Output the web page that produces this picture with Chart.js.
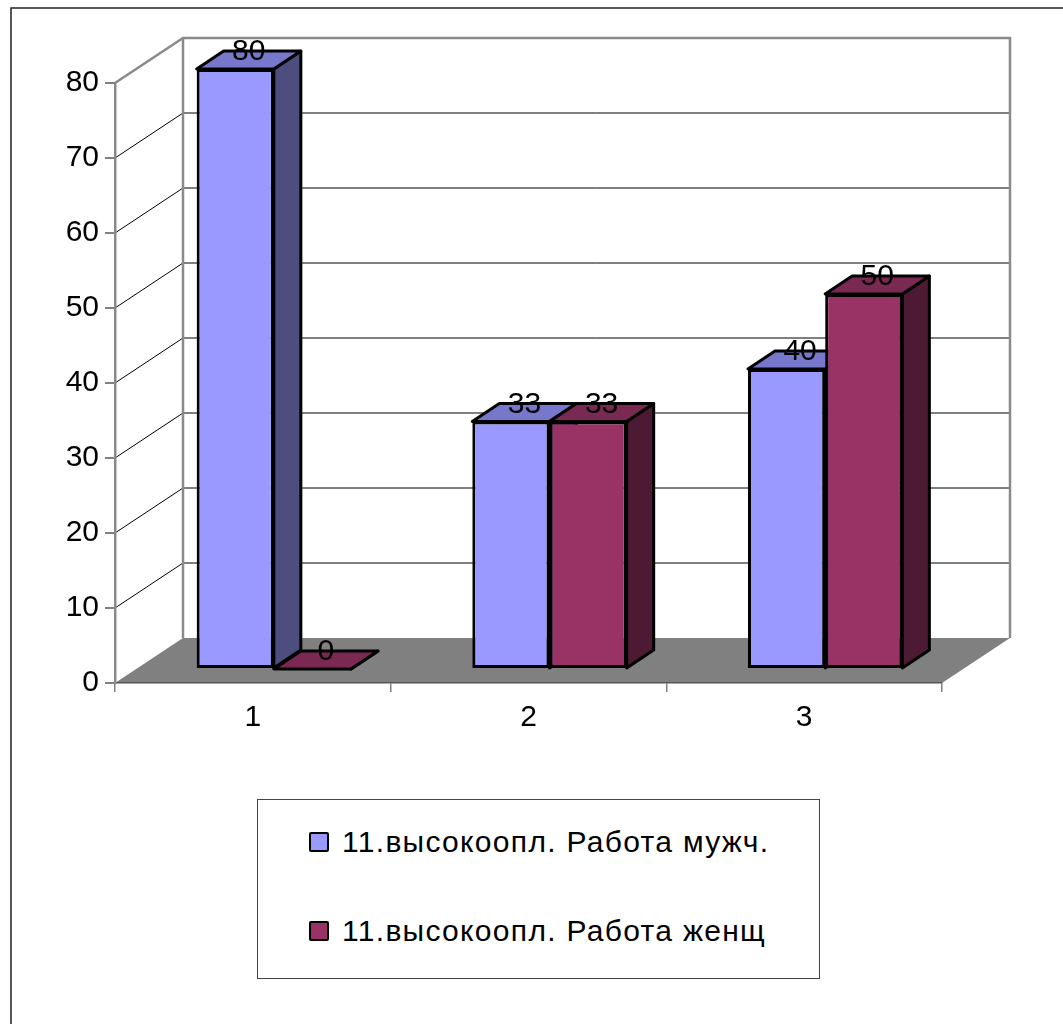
<!DOCTYPE html>
<html lang="ru">
<head>
    <meta charset="UTF-8">
    <title>11. высокооплачиваемая работа</title>
    <script src="https://cdn.jsdelivr.net/npm/chart.js"></script>
    <style>
        body { margin: 0; background: #fff; overflow: hidden; }
        #wrap { position: relative; width: 1063px; height: 1024px; }
        #chart { position: absolute; left: 0; top: 0; }
        #legend {
            position: absolute; left: 257px; top: 799px; width: 561px; height: 178px;
            border: 1.5px solid #444; background: #fff;
            font-family: "Liberation Sans", Arial, sans-serif; font-size: 30px; letter-spacing: 1.3px; color: #000;
        }
        .item { position: absolute; left: 51px; display: flex; align-items: center; white-space: nowrap; }
        .box { width: 16px; height: 16px; border: 2px solid #000; border-radius: 2px; margin-right: 13px; }
    </style>
</head>
<body>
<div id="wrap">
    <canvas id="chart" width="1063" height="1024"></canvas>
    <div id="legend"></div>
</div>
<script>
    const categories = ['1', '2', '3'];
    const menValues = [80, 33, 40];
    const womenValues = [0, 33, 50];
    const seriesNames = ['11.высокоопл. Работа мужч.', '11.высокоопл. Работа женщ'];
    const yMin = 0, yMax = 80, yStep = 10;

    const FRONT = ['#9999FF', '#993366'];
    const TOP = ['#7777CC', '#7A2952'];
    const SIDE = ['#4D4D80', '#4D1A33'];

    // 3d offsets
    const WALL = { dx: 68, dy: -45 };   // back wall from front plane
    const ROW = { dx: 21, dy: -14 };    // bar row from front plane
    const DEPTH = { dx: 27, dy: -18 };  // bar thickness

    const font = '"Liberation Sans", Arial, sans-serif';

    function poly(ctx, pts) {
        ctx.beginPath();
        ctx.moveTo(pts[0][0], pts[0][1]);
        for (let i = 1; i < pts.length; i++) ctx.lineTo(pts[i][0], pts[i][1]);
        ctx.closePath();
    }

    const scene3d = {
        id: 'scene3d',
        beforeDraw(chart) {
            const ctx = chart.ctx, a = chart.chartArea, y = chart.scales.y;
            ctx.save();
            ctx.fillStyle = '#fff';
            ctx.fillRect(0, 0, chart.width, chart.height);

            // outer frame
            ctx.strokeStyle = '#222';
            ctx.lineWidth = 1.5;
            ctx.beginPath();
            ctx.moveTo(11, chart.height); ctx.lineTo(11, 8); ctx.lineTo(chart.width, 8);
            ctx.stroke();

            const y0 = y.getPixelForValue(yMin), y1 = y.getPixelForValue(yMax);
            const bl = a.left + WALL.dx, br = a.right + WALL.dx;

            // floor
            ctx.fillStyle = '#808080';
            poly(ctx, [[a.left, y0], [a.right, y0], [br, y0 + WALL.dy], [bl, y0 + WALL.dy]]);
            ctx.fill();

            // grid lines on back and side walls
            ctx.strokeStyle = '#000';
            ctx.lineWidth = 1;
            for (let v = yMin + yStep; v < yMax; v += yStep) {
                const py = y.getPixelForValue(v);
                ctx.beginPath();
                ctx.moveTo(a.left, py);
                ctx.lineTo(bl, py + WALL.dy);
                ctx.lineTo(br, py + WALL.dy);
                ctx.stroke();
            }

            // wall edges
            ctx.strokeStyle = '#8a8a8a';
            ctx.lineWidth = 2.5;
            ctx.beginPath();
            ctx.moveTo(a.left, y1);
            ctx.lineTo(bl, y1 + WALL.dy);
            ctx.lineTo(br, y1 + WALL.dy);
            ctx.lineTo(br, y0 + WALL.dy);
            ctx.moveTo(bl, y1 + WALL.dy);
            ctx.lineTo(bl, y0 + WALL.dy);
            ctx.stroke();
            ctx.restore();
        },
        beforeDatasetsDraw(chart) {
            const ctx = chart.ctx;
            ctx.save();
            ctx.translate(ROW.dx, ROW.dy);
            // tops and sides first, left to right, fronts are drawn over them by Chart.js
            const bars = [];
            chart.data.datasets.forEach((ds, di) => {
                chart.getDatasetMeta(di).data.forEach((el, i) => bars.push({ el, di, i }));
            });
            bars.sort((p, q) => p.i - q.i || p.di - q.di);
            ctx.lineJoin = 'round';
            ctx.lineWidth = 3;
            ctx.strokeStyle = '#000';
            bars.forEach(({ el, di }) => {
                const l = el.x - el.width / 2, r = el.x + el.width / 2;
                const t = Math.min(el.y, el.base), b = el.base;
                const side = [[r, t], [r + DEPTH.dx, t + DEPTH.dy], [r + DEPTH.dx, b + DEPTH.dy], [r, b]];
                const top = [[l, t], [r, t], [r + DEPTH.dx, t + DEPTH.dy], [l + DEPTH.dx, t + DEPTH.dy]];
                ctx.fillStyle = SIDE[di];
                poly(ctx, side); ctx.fill(); ctx.stroke();
                ctx.fillStyle = TOP[di];
                poly(ctx, top); ctx.fill(); ctx.stroke();
            });
        },
        afterDatasetsDraw(chart) {
            const ctx = chart.ctx;
            ctx.fillStyle = '#000';
            ctx.font = '30px ' + font;
            ctx.textAlign = 'center';
            ctx.textBaseline = 'middle';
            chart.data.datasets.forEach((ds, di) => {
                chart.getDatasetMeta(di).data.forEach((el, i) => {
                    ctx.fillText(String(ds.data[i]), el.x + DEPTH.dx / 2, Math.min(el.y, el.base) + DEPTH.dy + 1);
                });
            });
            ctx.restore();
        }
    };

    new Chart(document.getElementById('chart'), {
        type: 'bar',
        data: {
            labels: categories,
            datasets: [
                { label: seriesNames[0], data: menValues, backgroundColor: FRONT[0] },
                { label: seriesNames[1], data: womenValues, backgroundColor: FRONT[1] }
            ]
        },
        options: {
            responsive: false,
            animation: false,
            devicePixelRatio: 1,
            layout: { padding: { left: 15, right: 121, top: 83, bottom: 281 } },
            datasets: {
                bar: {
                    categoryPercentage: 0.56,
                    barPercentage: 1.0,
                    borderColor: '#000',
                    borderWidth: 3,
                    borderSkipped: false
                }
            },
            plugins: { legend: { display: false }, tooltip: { enabled: false } },
            scales: {
                x: {
                    offset: true,
                    grid: { offset: true, drawOnChartArea: false, tickLength: 9, color: '#808080', lineWidth: 1.5 },
                    border: { color: '#555', width: 1.5 },
                    ticks: { color: '#000', font: { family: font, size: 30 }, padding: 8 },
                    afterFit(s) { s.height = 60; }
                },
                y: {
                    min: yMin, max: yMax,
                    grid: { drawOnChartArea: false, tickLength: 10, color: '#808080', lineWidth: 2 },
                    border: { color: '#8a8a8a', width: 2.5 },
                    ticks: { stepSize: yStep, color: '#000', font: { family: font, size: 30 }, padding: 6 },
                    afterFit(s) { s.width = 100; }
                }
            }
        },
        plugins: [scene3d]
    });

    // legend in a framed box under the plot
    const legend = document.getElementById('legend');
    seriesNames.forEach((name, i) => {
        const row = document.createElement('div');
        row.className = 'item';
        row.style.top = (i === 0 ? 25 : 114) + 'px';
        row.innerHTML = '<span class="box" style="background:' + FRONT[i] + '"></span><span>' + name + '</span>';
        legend.appendChild(row);
    });
</script>
</body>
</html>
